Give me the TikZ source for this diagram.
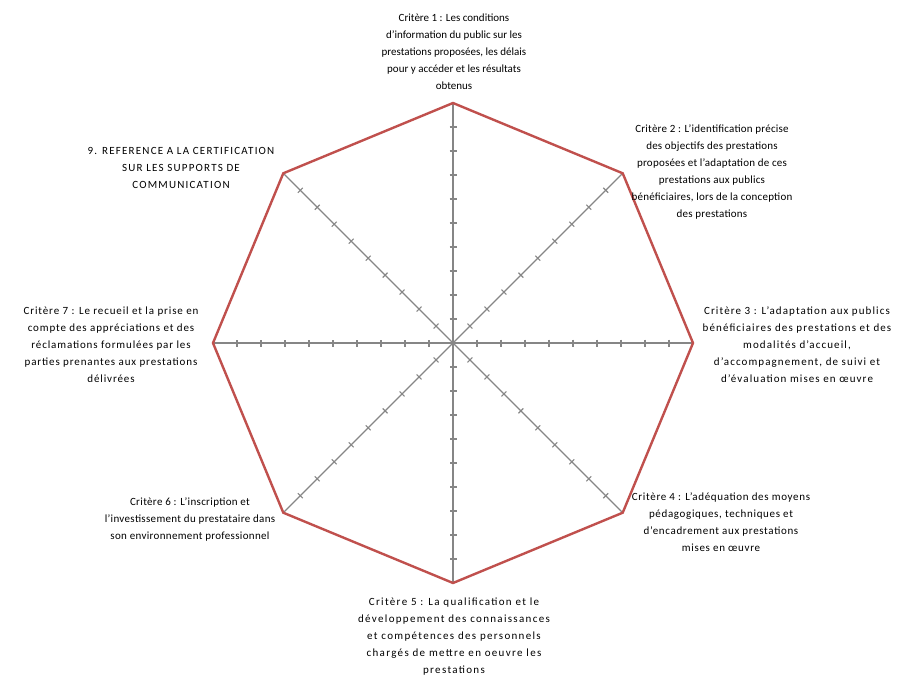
\documentclass[tikz,border=0pt]{standalone}
\usepackage{fontspec}
\setmainfont{Carlito}
\definecolor{radarred}{RGB}{192,80,77}
\definecolor{axisgray}{RGB}{134,134,134}
\newcommand{\lsp}[1]{\addfontfeature{LetterSpace=#1}}
\begin{document}
\begin{tikzpicture}[x=1pt,y=-1pt,
  lbl/.style={align=center, font=\fontsize{11}{17}\selectfont, inner sep=0pt},
  ls/.style={font=\fontsize{11}{17}\selectfont\lsp{#1}},
  axisline/.style={draw=axisgray, line width=1.1pt},
  radar/.style={draw=radarred, line width=2.4pt, line join=miter}]
\useasboundingbox (0,0) rectangle (897,677);
\coordinate (O) at (453,343);
\foreach \i in {0,...,7} {
  \path (O) ++({45*\i-90}:240) coordinate (v\i);
}
\foreach \i in {0,...,7} {
  \draw[axisline] (O) -- (v\i);
  \begin{scope}[shift={(O)}, rotate={90-45*\i}]
    \foreach \k in {1,...,9} {
      \draw[axisline] (24*\k,-3.5) -- (24*\k,3.5);
    }
  \end{scope}
}
\draw[radar] (v0) -- (v1) -- (v2) -- (v3) -- (v4) -- (v5) -- (v6) -- (v7) -- cycle;

\node[lbl] (c1) at (454,52) {Critère 1 : Les conditions\\d’information du public sur les\\prestations proposées, les délais\\pour y accéder et les résultats\\obtenus};
\node[lbl,ls=2] (c2) at (712,172) {Critère 2 : L’identification précise\\des objectifs des prestations\\proposées et l’adaptation de ces\\prestations aux publics\\bénéficiaires, lors de la conception\\des prestations};
\node[lbl,ls=10] (c3) at (797,345) {Critère 3 : L’adaptation aux publics\\bénéficiaires des prestations et des\\modalités d’accueil,\\d’accompagnement, de suivi et\\d’évaluation mises en œuvre};
\node[lbl,ls=6] (c4) at (721,522) {Critère 4 : L’adéquation des moyens\\pédagogiques, techniques et\\d’encadrement aux prestations\\mises en œuvre};
\node[lbl,ls=12] (c5) at (454,637) {Critère 5 : La qualification et le\\développement des connaissances\\et compétences des personnels\\chargés de mettre en oeuvre les\\prestations};
\node[lbl,ls=3] (c6) at (190,520) {Critère 6 : L’inscription et\\l’investissement du prestataire dans\\son environnement professionnel};
\node[lbl,ls=8] (c7) at (111,345) {Critère 7 : Le recueil et la prise en\\compte des appréciations et des\\réclamations formulées par les\\parties prenantes aux prestations\\délivrées};
\node[lbl,ls=11] (c9) at (181,168) {9. REFERENCE A LA CERTIFICATION\\SUR LES SUPPORTS DE\\COMMUNICATION};
\end{tikzpicture}
\end{document}
